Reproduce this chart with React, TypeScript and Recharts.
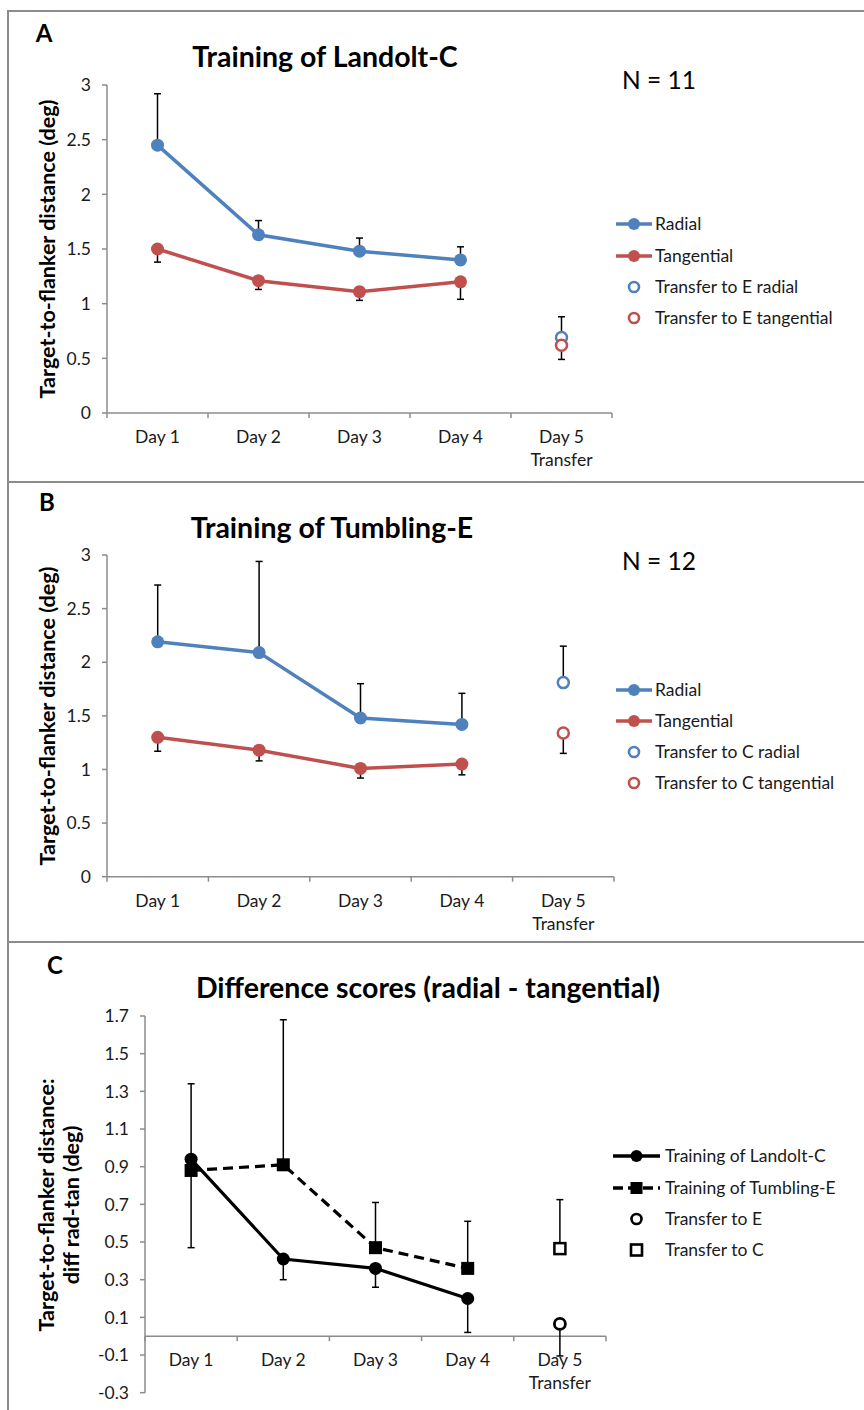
import React from 'react';
import { LineChart, Line, XAxis, YAxis, ErrorBar, ReferenceLine } from 'recharts';

// ---------- categories ----------
const days = ['Day 1', 'Day 2', 'Day 3', 'Day 4', 'Day 5'];
const daySubLabels = ['', '', '', '', 'Transfer'];

// ---------- Panel A: Training of Landolt-C ----------
const landoltRadial = [2.45, 1.63, 1.48, 1.40, null];
const landoltRadialErrUp = [0.47, 0.13, 0.12, 0.12, null];
const landoltTangential = [1.50, 1.21, 1.11, 1.20, null];
const landoltTangentialErrDown = [0.12, 0.08, 0.08, 0.16, null];
const transferERadial = [null, null, null, null, 0.69];
const transferERadialErrUp = [null, null, null, null, 0.19];
const transferETangential = [null, null, null, null, 0.62];
const transferETangentialErrDown = [null, null, null, null, 0.13];

// ---------- Panel B: Training of Tumbling-E ----------
const tumblingRadial = [2.19, 2.09, 1.48, 1.42, null];
const tumblingRadialErrUp = [0.53, 0.85, 0.32, 0.29, null];
const tumblingTangential = [1.30, 1.18, 1.01, 1.05, null];
const tumblingTangentialErrDown = [0.13, 0.10, 0.09, 0.10, null];
const transferCRadial = [null, null, null, null, 1.81];
const transferCRadialErrUp = [null, null, null, null, 0.34];
const transferCTangential = [null, null, null, null, 1.34];
const transferCTangentialErrDown = [null, null, null, null, 0.19];

// ---------- Panel C: Difference scores ----------
const diffLandolt = [0.94, 0.41, 0.36, 0.20, null];
const diffLandoltErrDown = [0.47, 0.11, 0.10, 0.18, null];
const diffTumbling = [0.88, 0.91, 0.47, 0.36, null];
const diffTumblingErrUp = [0.46, 0.77, 0.24, 0.25, null];
const diffTransferE = [null, null, null, null, 0.065];
const diffTransferEErrDown = [null, null, null, null, 0.17];
const diffTransferC = [null, null, null, null, 0.465];
const diffTransferCErrUp = [null, null, null, null, 0.26];

// ---------- tick labels ----------
const yTicksAB = [0, 0.5, 1, 1.5, 2, 2.5, 3];
const yDomainAB: [number, number] = [0, 3];
const yTicksC = [-0.3, -0.1, 0.1, 0.3, 0.5, 0.7, 0.9, 1.1, 1.3, 1.5, 1.7];
const yDomainC: [number, number] = [-0.3, 1.7];

// ---------- styles ----------
const BLUE = '#4F81BD';
const RED = '#C0504D';
const AXIS = '#8c8c8c';
const TXT = '#1a1a1a';
const FONT = 'Lato, "Open Sans", sans-serif';
const PAGE_W = 864;
const Y_W = 60;
const TICK_FS = 17.5;
const LEG_FS = 17.5;

type Series = { key: string; values: (number | null)[]; up?: (number | null)[]; down?: (number | null)[] };

function buildRows(series: Series[]) {
  return days.map((day, i) => {
    const row: any = { day, sub: daySubLabels[i] };
    series.forEach((s) => {
      row[s.key] = s.values[i];
      const u = s.up ? s.up[i] : null;
      const d = s.down ? s.down[i] : null;
      if (u != null || d != null) row[s.key + 'Err'] = [d ?? 0, u ?? 0];
    });
    return row;
  });
}

const dataA = buildRows([
  { key: 'radial', values: landoltRadial, up: landoltRadialErrUp },
  { key: 'tangential', values: landoltTangential, down: landoltTangentialErrDown },
  { key: 'trRadial', values: transferERadial, up: transferERadialErrUp },
  { key: 'trTangential', values: transferETangential, down: transferETangentialErrDown },
]);
const dataB = buildRows([
  { key: 'radial', values: tumblingRadial, up: tumblingRadialErrUp },
  { key: 'tangential', values: tumblingTangential, down: tumblingTangentialErrDown },
  { key: 'trRadial', values: transferCRadial, up: transferCRadialErrUp },
  { key: 'trTangential', values: transferCTangential, down: transferCTangentialErrDown },
]);
const dataC = buildRows([
  { key: 'landolt', values: diffLandolt, down: diffLandoltErrDown },
  { key: 'tumbling', values: diffTumbling, up: diffTumblingErrUp },
  { key: 'trE', values: diffTransferE, down: diffTransferEErrDown },
  { key: 'trC', values: diffTransferC, up: diffTransferCErrUp },
]);

type Layout = { chartTop: number; height: number; left: number; right: number; top: number; bottom: number; xH: number };

const LA: Layout = { chartTop: 0, height: 482, left: 107, right: 612, top: 85, bottom: 413, xH: 60 };
const LB: Layout = { chartTop: 482, height: 460, left: 107, right: 614, top: 555, bottom: 876.7, xH: 60 };
const LC: Layout = { chartTop: 942, height: 468, left: 145, right: 606, top: 1016, bottom: 1392.7, xH: 10 };

function marginOf(l: Layout) {
  return {
    top: l.top - l.chartTop,
    left: l.left - Y_W,
    right: PAGE_W - l.right,
    bottom: l.chartTop + l.height - l.bottom - l.xH,
  };
}

function makeDayTick(band: number, shift: number) {
  return (props: any) => {
    const { x, y, payload, index } = props;
    const ay = y + shift;
    const last = index === days.length - 1;
    const sub = daySubLabels[index] || '';
    return (
      <g>
        <line x1={x - band / 2} x2={x - band / 2} y1={ay} y2={ay + 5} stroke={AXIS} strokeWidth={1.5} />
        {last && <line x1={x + band / 2} x2={x + band / 2} y1={ay} y2={ay + 5} stroke={AXIS} strokeWidth={1.5} />}
        <text x={x} y={ay + 30} textAnchor="middle" fontSize={TICK_FS} fill={TXT} fontFamily={FONT}>
          {payload.value}
        </text>
        {sub && (
          <text x={x} y={ay + 53} textAnchor="middle" fontSize={TICK_FS} fill={TXT} fontFamily={FONT}>
            {sub}
          </text>
        )}
      </g>
    );
  };
}

function squareDot(filled: boolean) {
  return (props: any) => {
    const { cx, cy, index } = props;
    if (cx == null || cy == null || Number.isNaN(cx) || Number.isNaN(cy)) return <g key={`e-${index}`} />;
    return filled ? (
      <rect key={`s-${index}`} x={cx - 6.5} y={cy - 6.5} width={13} height={13} fill="#000" />
    ) : (
      <rect key={`s-${index}`} x={cx - 5.5} y={cy - 5.5} width={11} height={11} fill="#fff" stroke="#000" strokeWidth={2.5} />
    );
  };
}

const errProps = { stroke: '#000', strokeWidth: 1.5, width: 3.5, isAnimationActive: false } as any;

function yAxisProps(domain: [number, number], ticks: number[]) {
  return {
    type: 'number' as const,
    domain,
    ticks,
    interval: 0 as const,
    width: Y_W,
    axisLine: { stroke: AXIS, strokeWidth: 1.5 },
    tickLine: { stroke: AXIS, strokeWidth: 1.5 },
    tickSize: 5,
    tickMargin: 11,
    tick: { fontSize: TICK_FS, fill: TXT, fontFamily: FONT },
  };
}

function TrainingChart({ layout, data }: { layout: Layout; data: any[] }) {
  const band = (layout.right - layout.left) / days.length;
  return (
    <div style={{ position: 'absolute', left: 0, top: layout.chartTop }}>
      <LineChart width={PAGE_W} height={layout.height} data={data} margin={marginOf(layout)}>
        <XAxis
          dataKey="day"
          type="category"
          scale="band"
          interval={0}
          height={layout.xH}
          axisLine={{ stroke: AXIS, strokeWidth: 1.5 }}
          tickLine={false}
          tickSize={0}
          tickMargin={0}
          tick={makeDayTick(band, 0)}
        />
        <YAxis {...yAxisProps(yDomainAB, yTicksAB)} />
        <Line
          dataKey="radial"
          stroke={BLUE}
          strokeWidth={3.5}
          dot={{ r: 6.5, fill: BLUE, stroke: BLUE, strokeWidth: 0 }}
          activeDot={false}
          isAnimationActive={false}
        >
          <ErrorBar dataKey="radialErr" direction="y" {...errProps} />
        </Line>
        <Line
          dataKey="tangential"
          stroke={RED}
          strokeWidth={3.5}
          dot={{ r: 6.5, fill: RED, stroke: RED, strokeWidth: 0 }}
          activeDot={false}
          isAnimationActive={false}
        >
          <ErrorBar dataKey="tangentialErr" direction="y" {...errProps} />
        </Line>
        <Line
          dataKey="trRadial"
          stroke={BLUE}
          strokeWidth={0}
          dot={{ r: 5.5, fill: '#fff', stroke: BLUE, strokeWidth: 2.5 }}
          activeDot={false}
          isAnimationActive={false}
        >
          <ErrorBar dataKey="trRadialErr" direction="y" {...errProps} />
        </Line>
        <Line
          dataKey="trTangential"
          stroke={RED}
          strokeWidth={0}
          dot={{ r: 5.5, fill: '#fff', stroke: RED, strokeWidth: 2.5 }}
          activeDot={false}
          isAnimationActive={false}
        >
          <ErrorBar dataKey="trTangentialErr" direction="y" {...errProps} />
        </Line>
      </LineChart>
    </div>
  );
}

function DiffChart({ layout, data }: { layout: Layout; data: any[] }) {
  const band = (layout.right - layout.left) / days.length;
  const plotH = layout.bottom - layout.top;
  const shift = -plotH * (0 - yDomainC[0]) / (yDomainC[1] - yDomainC[0]);
  return (
    <div style={{ position: 'absolute', left: 0, top: layout.chartTop }}>
      <LineChart width={PAGE_W} height={layout.height} data={data} margin={marginOf(layout)}>
        <XAxis
          dataKey="day"
          type="category"
          scale="band"
          interval={0}
          height={layout.xH}
          axisLine={false}
          tickLine={false}
          tickSize={0}
          tickMargin={0}
          tick={makeDayTick(band, shift)}
        />
        <YAxis {...yAxisProps(yDomainC, yTicksC)} />
        <ReferenceLine y={0} stroke={AXIS} strokeWidth={1.5} />
        <Line
          dataKey="landolt"
          stroke="#000"
          strokeWidth={3.2}
          dot={{ r: 6.5, fill: '#000', stroke: '#000', strokeWidth: 0 }}
          activeDot={false}
          isAnimationActive={false}
        >
          <ErrorBar dataKey="landoltErr" direction="y" {...errProps} />
        </Line>
        <Line
          dataKey="tumbling"
          stroke="#000"
          strokeWidth={3.2}
          strokeDasharray="10 6"
          dot={squareDot(true)}
          activeDot={false}
          isAnimationActive={false}
        >
          <ErrorBar dataKey="tumblingErr" direction="y" {...errProps} />
        </Line>
        <Line
          dataKey="trE"
          stroke="#000"
          strokeWidth={0}
          dot={{ r: 5.5, fill: '#fff', stroke: '#000', strokeWidth: 2.8 }}
          activeDot={false}
          isAnimationActive={false}
        >
          <ErrorBar dataKey="trEErr" direction="y" {...errProps} />
        </Line>
        <Line
          dataKey="trC"
          stroke="#000"
          strokeWidth={0}
          dot={squareDot(false)}
          activeDot={false}
          isAnimationActive={false}
        >
          <ErrorBar dataKey="trCErr" direction="y" {...errProps} />
        </Line>
      </LineChart>
    </div>
  );
}

type LegendItem = { label: string; kind: 'lineCircle' | 'openCircle' | 'lineSquareDash' | 'openSquare'; color: string };

function LegendSymbol({ item, w }: { item: LegendItem; w: number }) {
  const c = item.color;
  const mid = w / 2;
  return (
    <svg width={w} height={16} style={{ display: 'block' }}>
      {item.kind === 'lineCircle' && (
        <>
          <line x1={0} x2={w} y1={8} y2={8} stroke={c} strokeWidth={3.5} />
          <circle cx={mid} cy={8} r={6} fill={c} />
        </>
      )}
      {item.kind === 'lineSquareDash' && (
        <>
          <line x1={0} x2={w} y1={8} y2={8} stroke={c} strokeWidth={3.5} strokeDasharray="10 5" />
          <rect x={mid - 6} y={2} width={12} height={12} fill={c} />
        </>
      )}
      {item.kind === 'openCircle' && <circle cx={mid} cy={8} r={5} fill="#fff" stroke={c} strokeWidth={2.6} />}
      {item.kind === 'openSquare' && <rect x={mid - 5.5} y={2.5} width={11} height={11} fill="#fff" stroke={c} strokeWidth={2.6} />}
    </svg>
  );
}

function Legend({ items, x, textX, rows, w }: { items: LegendItem[]; x: number; textX: number; rows: number[]; w: number }) {
  return (
    <>
      {items.map((it, i) => (
        <React.Fragment key={it.label}>
          <div style={{ position: 'absolute', left: x, top: rows[i] - 8 }}>
            <LegendSymbol item={it} w={w} />
          </div>
          <div
            style={{
              position: 'absolute',
              left: textX,
              top: rows[i],
              transform: 'translateY(-50%)',
              fontSize: LEG_FS,
              color: TXT,
              whiteSpace: 'nowrap',
              lineHeight: 1,
            }}
          >
            {it.label}
          </div>
        </React.Fragment>
      ))}
    </>
  );
}

function Txt({ x, y, size, bold, children, rotate }: any) {
  return (
    <div
      style={{
        position: 'absolute',
        left: x,
        top: y,
        transform: `translate(-50%, -50%)${rotate ? ' rotate(-90deg)' : ''}`,
        fontSize: size,
        fontWeight: bold ? 700 : 400,
        whiteSpace: 'nowrap',
        lineHeight: 1.15,
        color: '#000',
        textAlign: 'center',
      }}
    >
      {children}
    </div>
  );
}

const legendA: LegendItem[] = [
  { label: 'Radial', kind: 'lineCircle', color: BLUE },
  { label: 'Tangential', kind: 'lineCircle', color: RED },
  { label: 'Transfer to E radial', kind: 'openCircle', color: BLUE },
  { label: 'Transfer to E tangential', kind: 'openCircle', color: RED },
];
const legendB: LegendItem[] = [
  { label: 'Radial', kind: 'lineCircle', color: BLUE },
  { label: 'Tangential', kind: 'lineCircle', color: RED },
  { label: 'Transfer to C radial', kind: 'openCircle', color: BLUE },
  { label: 'Transfer to C tangential', kind: 'openCircle', color: RED },
];
const legendC: LegendItem[] = [
  { label: 'Training of Landolt-C', kind: 'lineCircle', color: '#000' },
  { label: 'Training of Tumbling-E', kind: 'lineSquareDash', color: '#000' },
  { label: 'Transfer to E', kind: 'openCircle', color: '#000' },
  { label: 'Transfer to C', kind: 'openSquare', color: '#000' },
];

export default function App() {
  return (
    <div style={{ position: 'relative', width: 864, height: 1410, background: '#fff', fontFamily: FONT, overflow: 'hidden' }}>
      <style>{'body{margin:0;background:#fff;}'}</style>
      {/* frame */}
      <div style={{ position: 'absolute', left: 7, top: 10, width: 2, height: 1400, background: AXIS }} />
      <div style={{ position: 'absolute', left: 7, top: 10, width: 857, height: 2, background: AXIS }} />
      <div style={{ position: 'absolute', left: 7, top: 481, width: 857, height: 2, background: AXIS }} />
      <div style={{ position: 'absolute', left: 7, top: 941, width: 857, height: 2, background: AXIS }} />

      <TrainingChart layout={LA} data={dataA} />
      <TrainingChart layout={LB} data={dataB} />
      <DiffChart layout={LC} data={dataC} />

      {/* Panel A texts */}
      <Txt x={44} y={33} size={24} bold>A</Txt>
      <Txt x={325} y={56} size={28.5} bold>Training of Landolt-C</Txt>
      <Txt x={659} y={80} size={24.5}>N = 11</Txt>
      <Txt x={47} y={249} size={21.5} bold rotate>Target-to-flanker distance (deg)</Txt>
      <Legend items={legendA} x={616} textX={655} rows={[224, 255.5, 287, 318]} w={36} />

      {/* Panel B texts */}
      <Txt x={47} y={502} size={24} bold>B</Txt>
      <Txt x={332} y={527} size={28.5} bold>Training of Tumbling-E</Txt>
      <Txt x={659} y={561} size={24.5}>N = 12</Txt>
      <Txt x={47} y={716} size={21.5} bold rotate>Target-to-flanker distance (deg)</Txt>
      <Legend items={legendB} x={616} textX={655} rows={[690, 721, 752, 783]} w={36} />

      {/* Panel C texts */}
      <Txt x={55} y={965} size={24} bold>C</Txt>
      <Txt x={428} y={987} size={28.5} bold>Difference scores (radial - tangential)</Txt>
      <Txt x={59} y={1205} size={21.5} bold rotate>
        Target-to-flanker distance:
        <br />
        diff rad-tan (deg)
      </Txt>
      <Legend items={legendC} x={613} textX={665} rows={[1156, 1188, 1219, 1250]} w={47} />
    </div>
  );
}
